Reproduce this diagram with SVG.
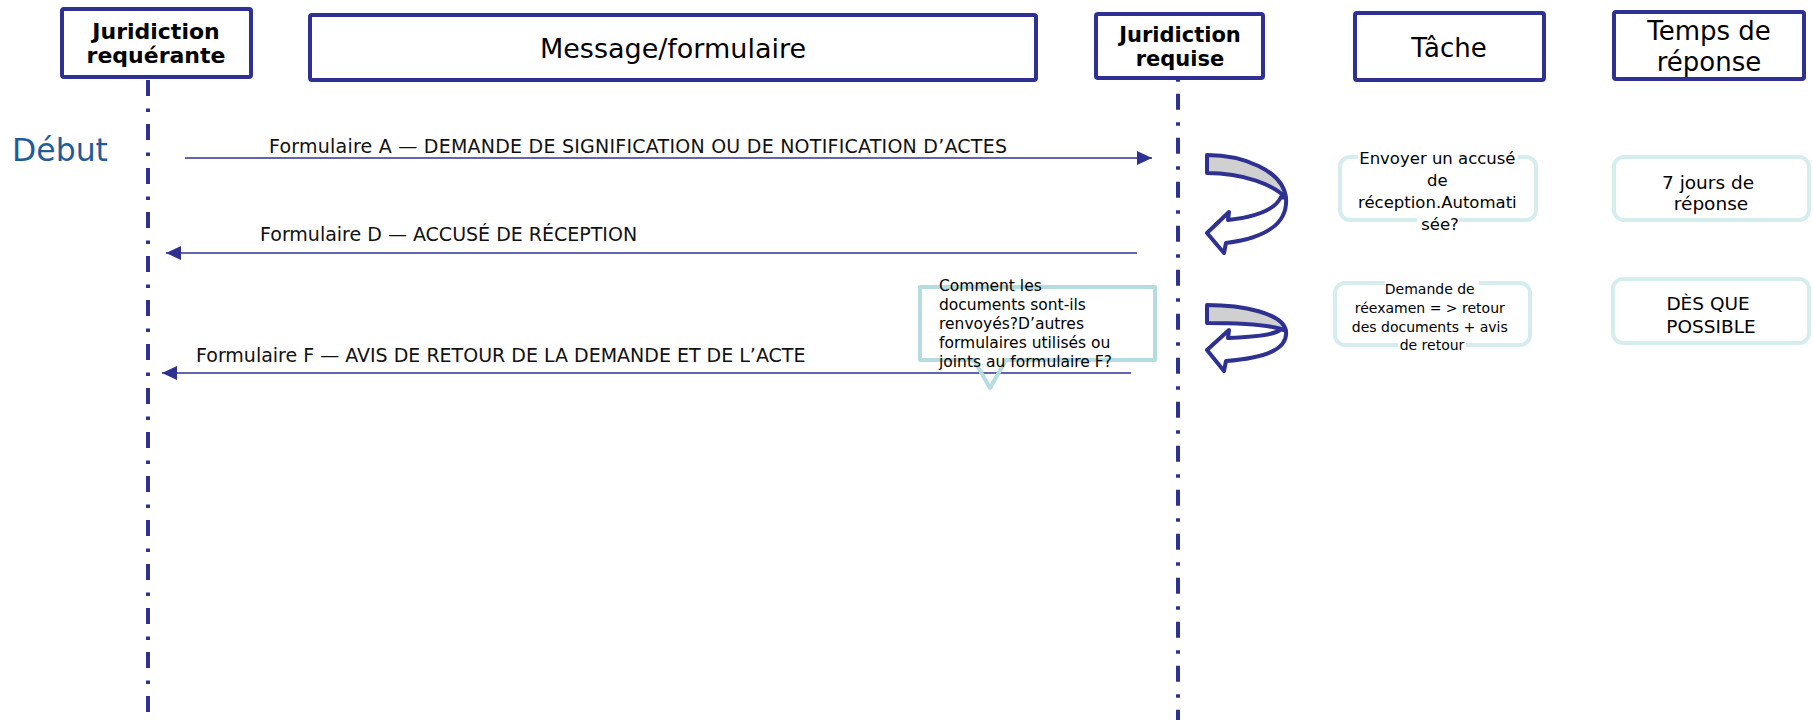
<svg xmlns="http://www.w3.org/2000/svg" width="1813" height="720" viewBox="0 0 1813 720">
<style>
.hdr{fill:#fff;stroke:#2e3192;stroke-width:4}
.t{font-family:"DejaVu Sans",Verdana,sans-serif;fill:#000}
.b{font-weight:bold}
.life{stroke:#2e3192;stroke-width:4;stroke-dasharray:16 12.5 3.5 12;fill:none}
.msg{stroke:#2e3192;stroke-width:1.6;fill:none}
.task{fill:#fff;stroke:#d6edef;stroke-width:4}
.lbl{font-family:"DejaVu Sans",Verdana,sans-serif;font-size:19px;fill:#111}
.uturn{stroke:#2e3192;stroke-width:4;stroke-linejoin:round}
</style>
<defs>
<marker id="ah" markerUnits="userSpaceOnUse" markerWidth="16" markerHeight="16" viewBox="0 0 16 16" refX="15" refY="8" orient="auto">
<path d="M0,1 L15,8 L0,15 Z" fill="#2e3192"/>
</marker>
</defs>

<g id="lifelines">
<line class="life" x1="148" y1="80" x2="148" y2="720"/>
<line class="life" x1="1178" y1="80" x2="1178" y2="720" stroke-dashoffset="30.3"/>
</g>

<g id="node-requerante">
<rect class="hdr" x="62" y="9" width="189" height="68" rx="2"/>
<text class="t b" font-size="22" text-anchor="middle" x="156" y="39">Juridiction</text>
<text class="t b" font-size="22" text-anchor="middle" x="156" y="63">requérante</text>
</g>
<g id="node-message">
<rect class="hdr" x="310" y="15" width="726" height="65" rx="2"/>
<text class="t" font-size="27" text-anchor="middle" x="673" y="58">Message/formulaire</text>
</g>
<g id="node-requise">
<rect class="hdr" x="1096" y="14" width="167" height="64" rx="2"/>
<text class="t b" font-size="21" text-anchor="middle" x="1180" y="42">Juridiction</text>
<text class="t b" font-size="21" text-anchor="middle" x="1180" y="66">requise</text>
</g>
<g id="node-tache">
<rect class="hdr" x="1355" y="13" width="189" height="67" rx="2"/>
<text class="t" font-size="26" text-anchor="middle" x="1449" y="57">Tâche</text>
</g>
<g id="node-temps">
<rect class="hdr" x="1614" y="12" width="190" height="67" rx="2"/>
<text class="t" font-size="26" text-anchor="middle" x="1709" y="40">Temps de</text>
<text class="t" font-size="26" text-anchor="middle" x="1709" y="71">réponse</text>
</g>

<g id="debut">
<text x="12" y="161" font-family="DejaVu Sans, Verdana, sans-serif" font-size="31.5" fill="#1f5c9c">Début</text>
</g>

<g id="connectors">
<line class="msg" x1="185" y1="158" x2="1152" y2="158" marker-end="url(#ah)"/>
<line class="msg" x1="1137" y1="253" x2="166" y2="253" marker-end="url(#ah)"/>
<line class="msg" x1="1131" y1="373" x2="162" y2="373" marker-end="url(#ah)"/>
<text class="lbl" x="269" y="153" textLength="738" lengthAdjust="spacing">Formulaire A — DEMANDE DE SIGNIFICATION OU DE NOTIFICATION D’ACTES</text>
<text class="lbl" x="260" y="241">Formulaire D — ACCUSÉ DE RÉCEPTION</text>
<text class="lbl" x="196" y="362">Formulaire F — AVIS DE RETOUR DE LA DEMANDE ET DE L’ACTE</text>
</g>

<g id="uturn-1">
<path class="uturn" fill="#fff" d="M1286,198 C1288,223 1266,238 1226,243 L1224,253 L1207,233 L1229,212 L1228,220 C1256,217 1275,210 1281,197 Z"/>
<path class="uturn" fill="#d0d0d0" d="M1207,155 C1242,155 1283,170 1286,198 C1274,185 1244,173 1207,173 Z"/>
</g>
<g id="uturn-2">
<path class="uturn" fill="#fff" d="M1286,331 C1288,349 1266,358 1226,361 L1224,371 L1207,350 L1229,330 L1228,338 C1256,337 1275,335 1281,329 Z"/>
<path class="uturn" fill="#d0d0d0" d="M1207,305 C1242,305 1283,313 1286,331 C1274,325 1244,323 1207,323 Z"/>
</g>

<g id="callout">
<path d="M920,287 L1155,287 L1155,360 L1006,360 L990,388 L974,360 L920,360 Z" fill="none" stroke="#b5dde1" stroke-width="4" stroke-linejoin="round"/>
<text class="t" font-size="15.5" fill="#111">
<tspan x="939" y="291">Comment les</tspan>
<tspan x="939" y="310">documents sont-ils</tspan>
<tspan x="939" y="329">renvoyés?D’autres</tspan>
<tspan x="939" y="348">formulaires utilisés ou</tspan>
<tspan x="939" y="367">joints au formulaire F?</tspan>
</text>
</g>

<g id="task-1">
<rect class="task" x="1340" y="157" width="196" height="63" rx="10"/>
<rect x="1358" y="149" width="160" height="19" fill="#fff"/>
<rect x="1417" y="217" width="42" height="18" fill="#fff"/>
<text class="t" font-size="16.5" text-anchor="middle" fill="#111">
<tspan x="1440" y="164">Envoyer un accusé</tspan>
<tspan x="1440" y="186">de</tspan>
<tspan x="1440" y="208">réception.Automati</tspan>
<tspan x="1440" y="230">sée?</tspan>
</text>
</g>
<g id="time-1">
<rect class="task" x="1614" y="157" width="195" height="63" rx="10"/>
<text class="t" font-size="18.5" text-anchor="middle" fill="#111">
<tspan x="1711" y="189">7 jours de</tspan>
<tspan x="1711" y="210">réponse</tspan>
</text>
</g>
<g id="task-2">
<rect class="task" x="1335" y="283" width="195" height="62" rx="10"/>
<rect x="1385" y="278" width="94" height="19" fill="#fff"/>
<rect x="1398" y="339" width="68" height="16" fill="#fff"/>
<text class="t" font-size="14" text-anchor="middle" fill="#111">
<tspan x="1432" y="294">Demande de</tspan>
<tspan x="1432" y="313">réexamen = &gt; retour</tspan>
<tspan x="1432" y="332">des documents + avis</tspan>
<tspan x="1432" y="350">de retour</tspan>
</text>
</g>
<g id="time-2">
<rect class="task" x="1613" y="279" width="196" height="64" rx="10"/>
<text class="t" font-size="18.5" text-anchor="middle" fill="#111">
<tspan x="1711" y="310">DÈS QUE</tspan>
<tspan x="1711" y="333">POSSIBLE</tspan>
</text>
</g>
</svg>
